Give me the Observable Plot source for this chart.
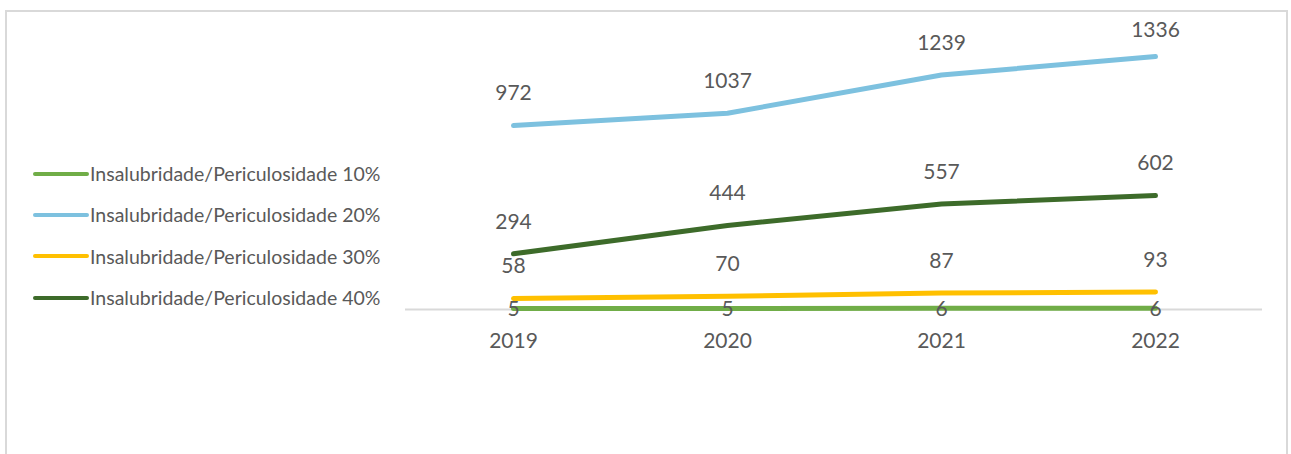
<!DOCTYPE html>
<html>
<head>
<meta charset="utf-8">
<script src="https://cdn.jsdelivr.net/npm/d3@7"></script>
<script src="https://cdn.jsdelivr.net/npm/@observablehq/plot@0.6"></script>
<style>
  html, body { margin: 0; padding: 0; background: #fff; overflow: hidden; }
  #frame { position: absolute; left: 5px; top: 10px; width: 1279px; height: 470px;
           border: 2px solid #d9d9d9; border-bottom: none; }
  #chart { position: absolute; left: 0; top: 0; }
  #legend { position: absolute; left: 33px; top: 153px; font-family: Lato, sans-serif;
            font-size: 19.5px; color: #595959; }
  .item { display: flex; align-items: center; height: 41.3px; }
  .swatch { width: 56px; height: 4px; border-radius: 2px; margin-right: 1px; }
</style>
</head>
<body>
<div id="frame"></div>
<div id="chart"></div>
<div id="legend"></div>
<script>
const years = ["2019", "2020", "2021", "2022"];
const seriesNames = [
  "Insalubridade/Periculosidade 10%",
  "Insalubridade/Periculosidade 20%",
  "Insalubridade/Periculosidade 30%",
  "Insalubridade/Periculosidade 40%"
];
const values10 = [5, 5, 6, 6];
const values20 = [972, 1037, 1239, 1336];
const values30 = [58, 70, 87, 93];
const values40 = [294, 444, 557, 602];
const colors = ["#70ad47", "#7dc1df", "#ffc000", "#3d6b2a"];

const seriesValues = [values10, values20, values30, values40];
const data = seriesNames.flatMap((s, i) =>
  years.map((y, j) => ({series: s, year: y, value: seriesValues[i][j], idx: i}))
);
const yMax = 1400;
const nearTop = d => d.value > yMax * 0.93;

const chart = Plot.plot({
  width: 1291,
  height: 454,
  marginLeft: 405,
  marginRight: 29,
  marginTop: 44,
  marginBottom: 145,
  style: {fontFamily: "Lato, sans-serif", background: "transparent", color: "#595959"},
  x: {type: "point", domain: years, padding: 0.5},
  y: {domain: [0, yMax], axis: null},
  color: {domain: seriesNames, range: colors},
  marks: [
    Plot.ruleY([0], {stroke: "#d9d9d9", strokeWidth: 2}),
    Plot.axisX({tickSize: 0, tickPadding: 24, fontSize: 21, label: null, fill: "#595959"}),
    ...seriesNames.map(s => Plot.line(data.filter(d => d.series === s), {
      x: "year", y: "value", stroke: "series", strokeWidth: 5,
      strokeLinecap: "round", strokeLinejoin: "round"
    })),
    Plot.text(data.filter(d => d.idx !== 0 && !nearTop(d)), {
      x: "year", y: "value", text: d => String(d.value), dy: -32,
      fontSize: 21, fill: "#595959"
    }),
    Plot.text(data.filter(d => d.idx !== 0 && nearTop(d)), {
      x: "year", y: "value", text: d => String(d.value), dy: -26,
      fontSize: 21, fill: "#595959"
    }),
    Plot.text(data.filter(d => d.idx === 0), {
      x: "year", y: "value", text: d => String(d.value), dy: 1,
      fontSize: 21, fill: "#595959"
    })
  ]
});
document.getElementById("chart").appendChild(chart);

const legend = document.getElementById("legend");
seriesNames.forEach((s, i) => {
  const item = document.createElement("div");
  item.className = "item";
  const sw = document.createElement("div");
  sw.className = "swatch";
  sw.style.background = colors[i];
  const label = document.createElement("span");
  label.textContent = s;
  item.appendChild(sw);
  item.appendChild(label);
  legend.appendChild(item);
});
</script>
</body>
</html>
